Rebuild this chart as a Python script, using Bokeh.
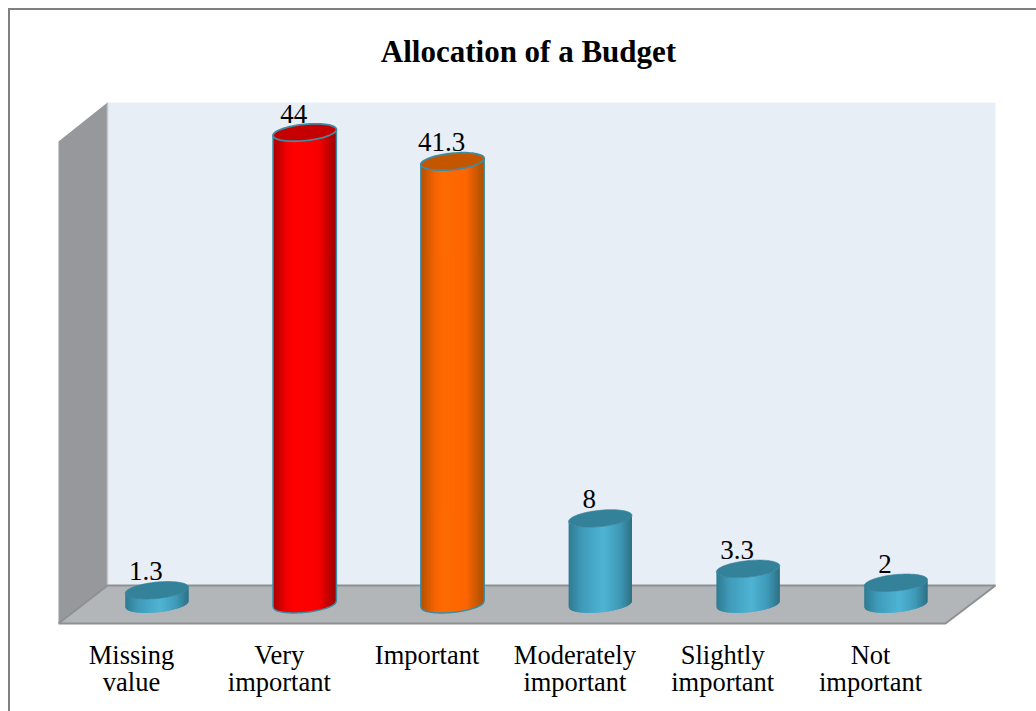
import numpy as np
from bokeh.core.properties import value
from bokeh.embed import file_html
from bokeh.models import FixedTicker, Range1d, Title
from bokeh.plotting import figure
from bokeh.resources import INLINE

categories = ["Missing\nvalue", "Very\nimportant", "Important", "Moderately\nimportant", "Slightly\nimportant", "Not\nimportant"]
values = [1.3, 44, 41.3, 8, 3.3, 2]
labels = ["1.3", "44", "41.3", "8", "3.3", "2"]
title = "Allocation of a Budget"

FONT = "Liberation Serif"
PX_X = 147.8      # pixels per category
PX_Y = 10.72      # pixels per value unit
ZERO_Y = 603.7
FIRST_TICK_X = 131.0
FRAME = dict(l=50, r=1006, t=70, b=628)
W, H = 1036, 711


def ux(px):  # canvas pixel -> chart x
    return (px - FIRST_TICK_X) / PX_X


def uy(py):  # canvas pixel -> chart y
    return (ZERO_Y - py) / PX_Y


p = figure(width=W, height=H, output_backend="svg", toolbar_location=None,
           x_range=Range1d(ux(FRAME["l"]), ux(FRAME["r"])),
           y_range=Range1d(uy(FRAME["b"]), uy(FRAME["t"])),
           min_border_left=FRAME["l"], min_border_right=W - FRAME["r"],
           min_border_top=FRAME["t"], min_border_bottom=H - FRAME["b"],
           outline_line_color=None, background_fill_color=None, border_fill_color=None,
           # page frame line, open at the bottom and on the right as in the source page
           styles={"box-shadow": "inset 8px 8px 0 #ffffff, inset 10px 10px 0 #808080"})
p.title = Title(text=title, align="center", text_font=FONT, text_font_size="31px",
                text_font_style="bold", text_color="black", standoff=4)
p.grid.visible = False
p.yaxis.visible = False

ax = p.xaxis[0]
ax.ticker = FixedTicker(ticks=list(range(len(categories))))
ax.major_label_overrides = {i: c for i, c in enumerate(categories)}
ax.axis_line_color = None
ax.major_tick_line_color = None
ax.minor_tick_line_color = None
ax.major_label_standoff = 5
ax.major_label_text_font = FONT
ax.major_label_text_font_size = "26.5px"
ax.major_label_text_line_height = 0.92
ax.major_label_text_color = "black"

# 3-D box: back wall, side wall, floor
xl, xb, xr, xf = ux(58), ux(107), ux(995), ux(945)
yt_b, yt_f, yb_b, yb_f = uy(102), uy(141), uy(585), uy(623)
p.patch([xb, xr, xr, xb], [yt_b, yt_b, yb_b, yb_b], color="#e7eef6", line_width=0)
p.patch([xl, xb, xb, xl], [yt_f, yt_b, yb_b, yb_f], color="#96989b", line_width=0)
p.line([xb, xb], [yt_b, yb_b], line_color="#c4c6c9", line_width=1.5)
p.patch([xl, xb, xr, xf], [yb_f, yb_b, yb_b, yb_f], color="#b2b6b9", line_width=0)
p.line([xl, xb, xr, xf, xl], [yb_f, yb_b, yb_b, yb_f, yb_f], line_color="#8e9093", line_width=2)

# cylinders
TEAL = dict(stops=[(0, "#2f7a91"), (.2, "#3f9ab8"), (.55, "#4fb4d4"), (.8, "#3f9ab8"), (1, "#2d7085")],
            top="#348299", outline=None)
RED = dict(stops=[(0, "#a80000"), (.22, "#f50000"), (.35, "#ff0000"), (.72, "#f80000"), (1, "#980000")],
           top="#c40000", outline="#3f8ba3")
ORANGE = dict(stops=[(0, "#b35100"), (.22, "#f56400"), (.35, "#ff6a00"), (.72, "#fc6500"), (1, "#a85000")],
              top="#c45600", outline="#3f8ba3")
styles = [TEAL, RED, ORANGE, TEAL, TEAL, TEAL]

BAR_SHIFT = 25.4 / PX_X     # bars stand mid-floor, tick labels at its front edge
A, B, K = 31.7 / PX_X, 8.2 / PX_Y, 3.0 / PX_Y
STRIPS = 42


def shade(stops, u):
    xs = [s[0] for s in stops]
    rgb = [[int(s[1][i:i + 2], 16) for s in stops] for i in (1, 3, 5)]
    return "#%02x%02x%02x" % tuple(int(round(np.interp(u, xs, c))) for c in rgb)


def lower_arc(c):
    return K * c - B * np.sqrt(np.clip(1 - c ** 2, 0, 1))


for i, (v, st) in enumerate(zip(values, styles)):
    cx = i + BAR_SHIFT
    edges = np.linspace(-1, 1, STRIPS + 1)
    xs, ys, cols = [], [], []
    for c0, c1 in zip(edges[:-1], edges[1:]):
        # each strip reaches over its right neighbour so no seams show
        c1b = min(1, c1 + 0.04)
        cc = np.linspace(c0, c1b, 4)
        low = lower_arc(cc)
        xs.append(list(cx + A * cc) + list(cx + A * cc[::-1]))
        ys.append(list(low) + list((v + low)[::-1]))
        cols.append(shade(st["stops"], (c0 + c1) / 4 + .5))
    p.patches(xs, ys, fill_color=cols, line_color=None)
    t = np.linspace(0, 2 * np.pi, 73)
    ex, ey = cx + A * np.cos(t), v + K * np.cos(t) + B * np.sin(t)
    if st["outline"]:
        cc = np.linspace(-1, 1, 50)
        p.line(list(cx + A * cc), list(lower_arc(cc)), line_color=st["outline"], line_width=1.5)
        p.line([cx - A, cx - A], [K * -1, v - K], line_color=st["outline"], line_width=1.5)
        p.line([cx + A, cx + A], [K, v + K], line_color=st["outline"], line_width=1.5)
    p.patch(list(ex), list(ey), fill_color=st["top"], line_color=st["outline"] or st["top"],
            line_width=1.8 if st["outline"] else 0.6)

# value labels
p.text([i + BAR_SHIFT for i in range(len(values))], values, text=labels, text_font=value(FONT),
       text_font_size="27px", text_align="center", text_baseline="alphabetic", text_color="black",
       x_offset=-11, y_offset=-19)

open("out.html", "w").write(file_html(p, INLINE))
